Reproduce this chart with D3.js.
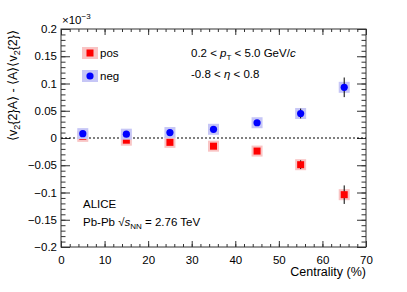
<!DOCTYPE html>
<html>
<head>
<meta charset="utf-8">
<script src="https://cdn.jsdelivr.net/npm/d3@7"></script>
<style>
  body { margin: 0; background: #fff; }
  svg { font-family: "Liberation Sans", Arial, sans-serif; }
</style>
</head>
<body>
<svg id="chart"></svg>
<script>
// centrality bin centres (%)
var centrality = [5, 15, 25, 35, 45, 55, 65];
// values in units of 1e-3
var posVals = [0.003, -0.004, -0.008, -0.015, -0.024, -0.049, -0.104];
var posErr  = [0.002, 0.002, 0.002, 0.002, 0.003, 0.008, 0.017];
var negVals = [0.008, 0.007, 0.010, 0.016, 0.028, 0.045, 0.093];
var negErr  = [0.002, 0.002, 0.002, 0.002, 0.003, 0.009, 0.018];
var xTicks = [0, 10, 20, 30, 40, 50, 60, 70];
var yTicks = [-0.2, -0.15, -0.1, -0.05, 0, 0.05, 0.1, 0.15, 0.2];

var svgWidth = 407, svgHeight = 292;
var margin = { top: 29, right: 41, bottom: 45, left: 61 };
var width = svgWidth - margin.left - margin.right;
var height = svgHeight - margin.top - margin.bottom;
var axisCol = "#333";

var svg = d3.select('#chart')
  .attr("width", svgWidth)
  .attr("height", svgHeight);

var g = svg.append("g")
  .attr("transform", "translate(" + margin.left + "," + margin.top + ")");

var x = d3.scaleLinear().domain([0, 70]).range([0, width]);
var y = d3.scaleLinear().domain([-0.2, 0.2]).range([height, 0]);

var fmtY = function (d) { return d === 0 ? "0" : d3.format("")(d).replace("-", "\u2212"); };

// minor ticks
var xMinor = d3.range(0, 70.01, 2);
var yMinor = d3.range(-0.2, 0.2001, 0.01);

function ticksAxis(axisFn, scale, vals, len, fmt) {
  return axisFn(scale).tickValues(vals).tickSizeInner(len).tickSizeOuter(0).tickFormat(fmt);
}

// bottom axis
g.append("g")
  .attr("transform", "translate(0," + height + ")")
  .call(ticksAxis(d3.axisTop, x, xMinor, 3, ""))
  .call(function (s) { s.select(".domain").remove(); });
g.append("g")
  .attr("transform", "translate(0," + height + ")")
  .call(ticksAxis(d3.axisTop, x, xTicks, 6, ""))
  .call(function (s) { s.select(".domain").remove(); });
g.append("g")
  .attr("transform", "translate(0," + height + ")")
  .call(d3.axisBottom(x).tickValues(xTicks).tickSize(0).tickPadding(9))
  .call(function (s) { s.select(".domain").remove(); s.selectAll("text").attr("font-size", 11.5).attr("fill", "#000"); });

// top axis
g.append("g")
  .call(ticksAxis(d3.axisBottom, x, xMinor, 3, ""))
  .call(function (s) { s.select(".domain").remove(); });
g.append("g")
  .call(ticksAxis(d3.axisBottom, x, xTicks, 6, ""))
  .call(function (s) { s.select(".domain").remove(); });

// left axis
g.append("g")
  .call(ticksAxis(d3.axisRight, y, yMinor, 4.5, ""))
  .call(function (s) { s.select(".domain").remove(); });
g.append("g")
  .call(ticksAxis(d3.axisRight, y, yTicks, 9, ""))
  .call(function (s) { s.select(".domain").remove(); });
g.append("g")
  .call(d3.axisLeft(y).tickValues(yTicks).tickSize(0).tickPadding(4).tickFormat(fmtY))
  .call(function (s) { s.select(".domain").remove(); s.selectAll("text").attr("font-size", 11.5).attr("fill", "#000"); });

// right axis
g.append("g")
  .attr("transform", "translate(" + width + ",0)")
  .call(ticksAxis(d3.axisLeft, y, yMinor, 4.5, ""))
  .call(function (s) { s.select(".domain").remove(); });
g.append("g")
  .attr("transform", "translate(" + width + ",0)")
  .call(ticksAxis(d3.axisLeft, y, yTicks, 9, ""))
  .call(function (s) { s.select(".domain").remove(); });

g.selectAll(".tick line").attr("stroke", axisCol);

// frame
g.append("rect")
  .attr("width", width).attr("height", height)
  .attr("fill", "none").attr("stroke", axisCol).attr("stroke-width", 1);

// zero line
g.append("line")
  .attr("x1", 0).attr("x2", width)
  .attr("y1", y(0)).attr("y2", y(0))
  .attr("stroke", "#000").attr("stroke-dasharray", "2,2");

function series(vals, errs, boxCol, col, shape) {
  var data = centrality.map(function (c, i) { return { c: c, v: vals[i], e: errs[i] }; });
  var s = g.append("g");
  s.selectAll("rect.sys").data(data).enter().append("rect")
    .attr("x", function (d) { return x(d.c) - 5.5; })
    .attr("y", function (d) { return y(d.v) - 5.5; })
    .attr("width", 11).attr("height", 11)
    .attr("fill", boxCol);
  s.selectAll("line.err").data(data).enter().append("line")
    .attr("x1", function (d) { return x(d.c); })
    .attr("x2", function (d) { return x(d.c); })
    .attr("y1", function (d) { return y(d.v - d.e); })
    .attr("y2", function (d) { return y(d.v + d.e); })
    .attr("stroke", "#000");
  if (shape === "square") {
    s.selectAll("rect.m").data(data).enter().append("rect")
      .attr("x", function (d) { return x(d.c) - 3.5; })
      .attr("y", function (d) { return y(d.v) - 3.5; })
      .attr("width", 7).attr("height", 7)
      .attr("fill", col);
  } else {
    s.selectAll("circle").data(data).enter().append("circle")
      .attr("cx", function (d) { return x(d.c); })
      .attr("cy", function (d) { return y(d.v); })
      .attr("r", 3.6)
      .attr("fill", col);
  }
}

series(posVals, posErr, "#f9c4c4", "#ff0000", "square");
series(negVals, negErr, "#c6c6f6", "#0000ff", "circle");

// legend
svg.append("rect").attr("x", 82).attr("y", 47).attr("width", 16).attr("height", 12).attr("fill", "#f9c4c4");
svg.append("rect").attr("x", 86.5).attr("y", 49.5).attr("width", 7).attr("height", 7).attr("fill", "#ff0000");
svg.append("text").attr("x", 100).attr("y", 57).attr("font-size", 11.5).text("pos");
svg.append("rect").attr("x", 82).attr("y", 70).attr("width", 16).attr("height", 12).attr("fill", "#c6c6f6");
svg.append("circle").attr("cx", 90).attr("cy", 76).attr("r", 3.6).attr("fill", "#0000ff");
svg.append("text").attr("x", 100).attr("y", 80).attr("font-size", 11.5).text("neg");

// kinematics
var t1 = svg.append("text").attr("x", 191).attr("y", 57).attr("font-size", 11.5);
t1.append("tspan").text("0.2 < ");
t1.append("tspan").attr("font-style", "italic").text("p");
t1.append("tspan").attr("font-size", 8).attr("dy", 3).text("T");
t1.append("tspan").attr("dy", -3).text(" < 5.0 GeV/");
t1.append("tspan").attr("font-style", "italic").text("c");

var t2 = svg.append("text").attr("x", 191).attr("y", 78).attr("font-size", 11.5);
t2.append("tspan").text("-0.8 < ");
t2.append("tspan").attr("font-style", "italic").text("\u03b7");
t2.append("tspan").text(" < 0.8");

// ALICE
svg.append("text").attr("x", 83).attr("y", 208).attr("font-size", 11.5).text("ALICE");
var t3 = svg.append("text").attr("x", 83).attr("y", 226).attr("font-size", 11.5);
t3.append("tspan").text("Pb-Pb ");
t3.append("tspan").text("\u221a");
t3.append("tspan").attr("font-style", "italic").text("s");
t3.append("tspan").attr("font-size", 8).attr("dy", 3).text("NN");
t3.append("tspan").attr("dy", -3).text(" = 2.76 TeV");

// exponent
var t4 = svg.append("text").attr("x", 62).attr("y", 24).attr("font-size", 11.5);
t4.append("tspan").text("\u00d710");
t4.append("tspan").attr("font-size", 8).attr("dy", -5).text("\u22123");

// axis titles
svg.append("text").attr("x", 366).attr("y", 276).attr("text-anchor", "end")
  .attr("font-size", 12.5).text("Centrality (%)");

var yt = svg.append("text")
  .attr("transform", "translate(17,30) rotate(-90)")
  .attr("text-anchor", "end").attr("font-size", 12.5);
yt.append("tspan").text("\u27e8v");
yt.append("tspan").attr("font-size", 9).attr("dy", 3).text("2");
yt.append("tspan").attr("dy", -3).text("{2}A\u27e9 - \u27e8A\u27e9\u27e8v");
yt.append("tspan").attr("font-size", 9).attr("dy", 3).text("2");
yt.append("tspan").attr("dy", -3).text("{2}\u27e9");
</script>
</body>
</html>
